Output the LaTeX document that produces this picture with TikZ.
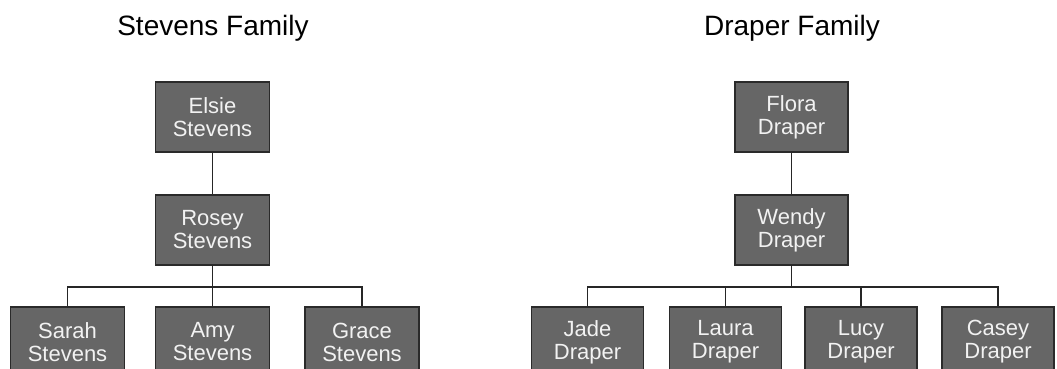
\documentclass[tikz,border=0pt]{standalone}
\usepackage{fontspec}
\setmainfont{Liberation Sans}
\definecolor{boxfill}{HTML}{666666}
\definecolor{boxline}{HTML}{2A2A2A}
\definecolor{boxtext}{HTML}{F2F2F2}
\begin{document}
\begin{tikzpicture}[x=1pt,y=-1pt,
  person/.style={draw=boxline,line width=1.5pt,fill=boxfill,text=boxtext,
    minimum width=114pt,minimum height=70pt,inner sep=0pt,align=center,
    font=\fontsize{22}{23}\selectfont},
  title/.style={anchor=base,font=\fontsize{28}{30}\selectfont,text=black},
  link/.style={draw=black!85,line width=1.6pt}]
\useasboundingbox (0,0) rectangle (1057,369);
\clip (0,0) rectangle (1057,369);
% Stevens family
\node[title] (t1) at (213,36) {Stevens Family};
\node[person] (elsie) at (212.5,117) {Elsie\\Stevens};
\node[person] (rosey) at (212.5,230) {Rosey\\Stevens};
\node[person] (sarah) at (67.5,342) {Sarah\\Stevens};
\node[person] (amy) at (212.5,342) {Amy\\Stevens};
\node[person] (grace) at (362,342) {Grace\\Stevens};
\draw[link] (elsie.south) -- (rosey.north);
\foreach \c in {sarah,amy,grace}
  \draw[link] (rosey.south) -- ++(0,21) -| (\c.north);
% Draper family
\node[title] (t2) at (792,36) {Draper Family};
\node[person,minimum width=113pt] (flora) at (791.5,117) {Flora\\Draper};
\node[person,minimum width=113pt] (wendy) at (791.5,230) {Wendy\\Draper};
\node[person,minimum width=112pt] (jade) at (587.5,342) {Jade\\Draper};
\node[person,minimum width=112pt] (laura) at (725.5,342) {Laura\\Draper};
\node[person,minimum width=112pt] (lucy) at (861,342) {Lucy\\Draper};
\node[person,minimum width=112pt] (casey) at (998,342) {Casey\\Draper};
\draw[link] (flora.south) -- (wendy.north);
\foreach \c in {jade,laura,lucy,casey}
  \draw[link] (wendy.south) -- ++(0,21) -| (\c.north);
\end{tikzpicture}
\end{document}
